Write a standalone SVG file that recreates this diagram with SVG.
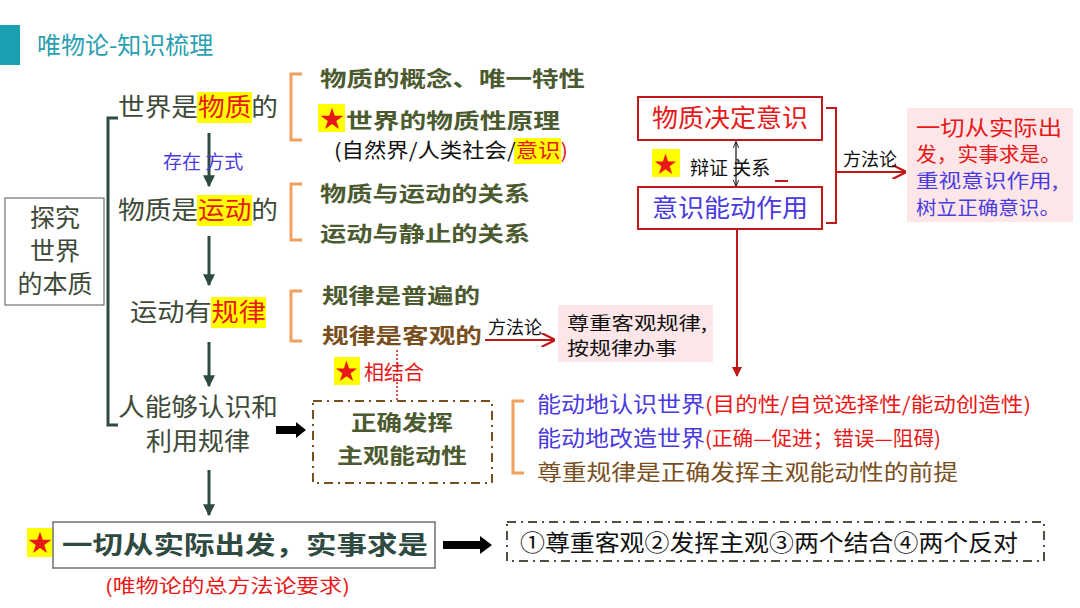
<svg xmlns="http://www.w3.org/2000/svg" width="1080" height="608" viewBox="0 0 1080 608">
<defs>
<style>
text{font-family:"Noto Sans CJK SC","Noto Sans",sans-serif}
.main{font-size:25px;fill:#3e4a38}
.sub{font-size:21px;fill:#4b5a2f;font-weight:bold}
.brown{fill:#7a4f1e}
.red{fill:#e81818}
.blue{fill:#4a3ae0}
.blk{fill:#111}
.hl{fill:#ffff00}
.br{fill:none;stroke:#f2a05e;stroke-width:3}
.dg{stroke:#2f4a40;stroke-width:3;fill:none}
</style>
<marker id="ag" viewBox="0 0 10 10" refX="9" refY="5" markerWidth="4" markerHeight="4" orient="auto"><path d="M0,0 L10,5 L0,10 z" fill="#2f4a40"/></marker>
<marker id="ar" viewBox="0 0 10 10" refX="9" refY="5" markerWidth="7" markerHeight="7" orient="auto"><path d="M0,0 L10,5 L0,10" fill="none" stroke="#c01818" stroke-width="1.6"/></marker>
<marker id="arf" viewBox="0 0 10 10" refX="9" refY="5" markerWidth="5" markerHeight="5" orient="auto"><path d="M0,0 L10,5 L0,10 z" fill="#c01818"/></marker>
<marker id="ab" viewBox="0 0 10 10" refX="9" refY="5" markerWidth="6" markerHeight="6" orient="auto-start-reverse"><path d="M0,1 L10,5 L0,9" fill="none" stroke="#111" stroke-width="1.2"/></marker>
</defs>
<rect width="1080" height="608" fill="#ffffff"/>

<g id="title">
<rect x="0" y="25" width="20" height="40" fill="#1aa0b0"/>
<text x="37" y="54" font-size="24" fill="#2b9fb2">唯物论-知识梳理</text>
</g>

<g id="connectors">
<path class="dg" d="M118,118 L108,118 L108,425 L118,425"/>
<line class="dg" x1="209" y1="133" x2="209" y2="186" marker-end="url(#ag)"/>
<line class="dg" x1="209" y1="236" x2="209" y2="285" marker-end="url(#ag)"/>
<line class="dg" x1="209" y1="342" x2="209" y2="386" marker-end="url(#ag)"/>
<line class="dg" x1="209" y1="470" x2="209" y2="515" marker-end="url(#ag)"/>
<path class="br" d="M302,74 L291,74 L291,140 L302,140"/>
<path class="br" d="M302,184 L291,184 L291,240 L302,240"/>
<path class="br" d="M302,291 L291,291 L291,341 L302,341"/>
<path class="br" d="M524,401 L513,401 L513,473 L524,473"/>
<line x1="485" y1="340" x2="554" y2="340" stroke="#c01818" stroke-width="2" marker-end="url(#ar)"/>
<line x1="397" y1="350" x2="397" y2="401" stroke="#c01818" stroke-width="1.5" stroke-dasharray="2,2"/>
<path d="M276,426 L296,426 L296,422 L306,430 L296,438 L296,434 L276,434 z" fill="#000"/>
<path d="M443,541 L480,541 L480,536 L492,545 L480,554 L480,549 L443,549 z" fill="#000"/>
<line x1="736" y1="142" x2="736" y2="186" stroke="#111" stroke-width="1.2" marker-start="url(#ab)" marker-end="url(#ab)"/>
<path d="M826,108 L836,108 L836,223 L826,223" fill="none" stroke="#c01818" stroke-width="2"/>
<line x1="836" y1="172" x2="905" y2="172" stroke="#c01818" stroke-width="2" marker-end="url(#ar)"/>
<line x1="737" y1="229" x2="737" y2="376" stroke="#c01818" stroke-width="2" marker-end="url(#arf)"/>
<line x1="775" y1="181" x2="788" y2="181" stroke="#c01818" stroke-width="2"/>
</g>

<g id="n-root">
<rect x="5" y="198" width="99" height="107" fill="#fff" stroke="#555" stroke-width="1"/>
<text class="main" x="55" y="227" text-anchor="middle">探究</text>
<text class="main" x="55" y="260" text-anchor="middle">世界</text>
<text class="main" x="55" y="293" text-anchor="middle">的本质</text>
</g>

<g id="n-matter">
<rect class="hl" x="197" y="92" width="55" height="31"/>
<text class="main" x="118" y="116" textLength="160" lengthAdjust="spacingAndGlyphs">世界是<tspan class="red">物质</tspan>的</text>
<text x="163" y="169" font-size="19" class="blue">存在 方式</text>
</g>

<g id="n-motion">
<rect class="hl" x="197" y="195" width="55" height="31"/>
<text class="main" x="118" y="219" textLength="160" lengthAdjust="spacingAndGlyphs">物质是<tspan class="red">运动</tspan>的</text>
</g>

<g id="n-law">
<rect class="hl" x="211" y="297" width="55" height="31"/>
<text class="main" x="130" y="321" textLength="136" lengthAdjust="spacingAndGlyphs">运动有<tspan class="red">规律</tspan></text>
</g>

<g id="n-use">
<text class="main" x="118" y="416" font-size="24" textLength="160" lengthAdjust="spacingAndGlyphs">人能够认识和</text>
<text class="main" x="146" y="450" font-size="24" textLength="104" lengthAdjust="spacingAndGlyphs">利用规律</text>
</g>

<g id="n-matter-detail">
<text class="sub" x="320" y="86" textLength="265" lengthAdjust="spacingAndGlyphs">物质的概念、唯一特性</text>
<rect class="hl" x="318" y="104" width="27" height="28"/>
<text x="320" y="127" font-size="24" class="red">★</text>
<text class="sub" x="346" y="128" textLength="214" lengthAdjust="spacingAndGlyphs">世界的物质性原理</text>
<rect class="hl" x="514" y="138" width="47" height="26"/>
<text x="334" y="158" font-size="20" class="blk" textLength="234" lengthAdjust="spacingAndGlyphs">(自然界/人类社会/<tspan class="red">意识)</tspan></text>
</g>

<g id="n-motion-detail">
<text class="sub" x="320" y="201" textLength="210" lengthAdjust="spacingAndGlyphs">物质与运动的关系</text>
<text class="sub" x="320" y="241" textLength="210" lengthAdjust="spacingAndGlyphs">运动与静止的关系</text>
</g>

<g id="n-law-detail">
<text class="sub" x="322" y="303" textLength="158" lengthAdjust="spacingAndGlyphs">规律是普遍的</text>
<text class="sub brown" x="322" y="343" textLength="160" lengthAdjust="spacingAndGlyphs">规律是客观的</text>
<text x="488" y="334" font-size="18" class="blk">方法论</text>
</g>

<g id="n-respect">
<rect x="558" y="305" width="155" height="57" fill="#fce6e8"/>
<text x="567" y="330" font-size="18" class="blk" textLength="140" lengthAdjust="spacingAndGlyphs">尊重客观规律,</text>
<text x="567" y="355" font-size="18" class="blk" textLength="110" lengthAdjust="spacingAndGlyphs">按规律办事</text>
</g>

<g id="n-combine">
<rect class="hl" x="334" y="357" width="26" height="28"/>
<text x="335" y="379" font-size="23" class="red">★</text>
<text x="364" y="380" font-size="20" class="red">相结合</text>
</g>

<g id="n-subjective">
<rect x="313" y="401" width="179" height="82" fill="none" stroke="#7a4f1e" stroke-width="2" stroke-dasharray="9,5,2,5"/>
<text class="sub" x="402" y="430" text-anchor="middle" textLength="102" lengthAdjust="spacingAndGlyphs">正确发挥</text>
<text class="sub" x="402" y="463" text-anchor="middle" textLength="130" lengthAdjust="spacingAndGlyphs">主观能动性</text>
</g>

<g id="n-subjective-detail">
<text x="537" y="412" font-size="22" class="blue" textLength="168" lengthAdjust="spacingAndGlyphs">能动地认识世界</text>
<text x="705" y="412" font-size="20" class="red" textLength="326" lengthAdjust="spacingAndGlyphs">(目的性/自觉选择性/能动创造性)</text>
<text x="537" y="446" font-size="22" class="blue" textLength="168" lengthAdjust="spacingAndGlyphs">能动地改造世界</text>
<text x="705" y="446" font-size="20" class="red" textLength="236" lengthAdjust="spacingAndGlyphs">(正确—促进；错误—阻碍)</text>
<text x="537" y="480" font-size="22" class="brown" textLength="421" lengthAdjust="spacingAndGlyphs">尊重规律是正确发挥主观能动性的前提</text>
</g>

<g id="n-decide">
<rect x="638" y="97" width="184" height="43" fill="#fff" stroke="#c01818" stroke-width="2"/>
<text x="730" y="127" font-size="25" class="red" text-anchor="middle" textLength="156" lengthAdjust="spacingAndGlyphs">物质决定意识</text>
</g>

<g id="n-dialectic">
<rect class="hl" x="652" y="149" width="28" height="28"/>
<text x="654" y="172" font-size="23" class="red">★</text>
<text x="690" y="175" font-size="19" class="blk">辩证 关系</text>
</g>

<g id="n-active">
<rect x="638" y="187" width="184" height="42" fill="#fff" stroke="#c01818" stroke-width="2"/>
<text x="730" y="217" font-size="25" class="blue" text-anchor="middle" textLength="156" lengthAdjust="spacingAndGlyphs">意识能动作用</text>
</g>

<g id="n-method">
<text x="843" y="166" font-size="18" class="blk">方法论</text>
<rect x="907" y="108" width="166" height="114" fill="#fce6e8"/>
<text x="916" y="135" font-size="21" class="red" textLength="146" lengthAdjust="spacingAndGlyphs">一切从实际出</text>
<text x="916" y="162" font-size="20" class="red" textLength="145" lengthAdjust="spacingAndGlyphs">发，实事求是。</text>
<text x="916" y="188" font-size="19" class="blue" textLength="142" lengthAdjust="spacingAndGlyphs">重视意识作用,</text>
<text x="916" y="215" font-size="19" class="blue" textLength="144" lengthAdjust="spacingAndGlyphs">树立正确意识。</text>
</g>

<g id="n-seek-truth">
<rect class="hl" x="27" y="528" width="26" height="29"/>
<text x="28" y="551" font-size="24" class="red">★</text>
<rect x="53" y="522" width="382" height="46" fill="#fff" stroke="#6b756b" stroke-width="1.5"/>
<text x="62" y="554" font-size="25" fill="#2f4a40" font-weight="bold" textLength="366" lengthAdjust="spacingAndGlyphs">一切从实际出发，实事求是</text>
<text x="105" y="593" font-size="19" class="red" textLength="245" lengthAdjust="spacingAndGlyphs">(唯物论的总方法论要求)</text>
</g>

<g id="n-four">
<rect x="507" y="522" width="537" height="39" fill="none" stroke="#4b5240" stroke-width="2" stroke-dasharray="9,5,2,5"/>
<text x="520" y="551" font-size="23" class="blk" textLength="498" lengthAdjust="spacingAndGlyphs">①尊重客观②发挥主观③两个结合④两个反对</text>
</g>
</svg>
